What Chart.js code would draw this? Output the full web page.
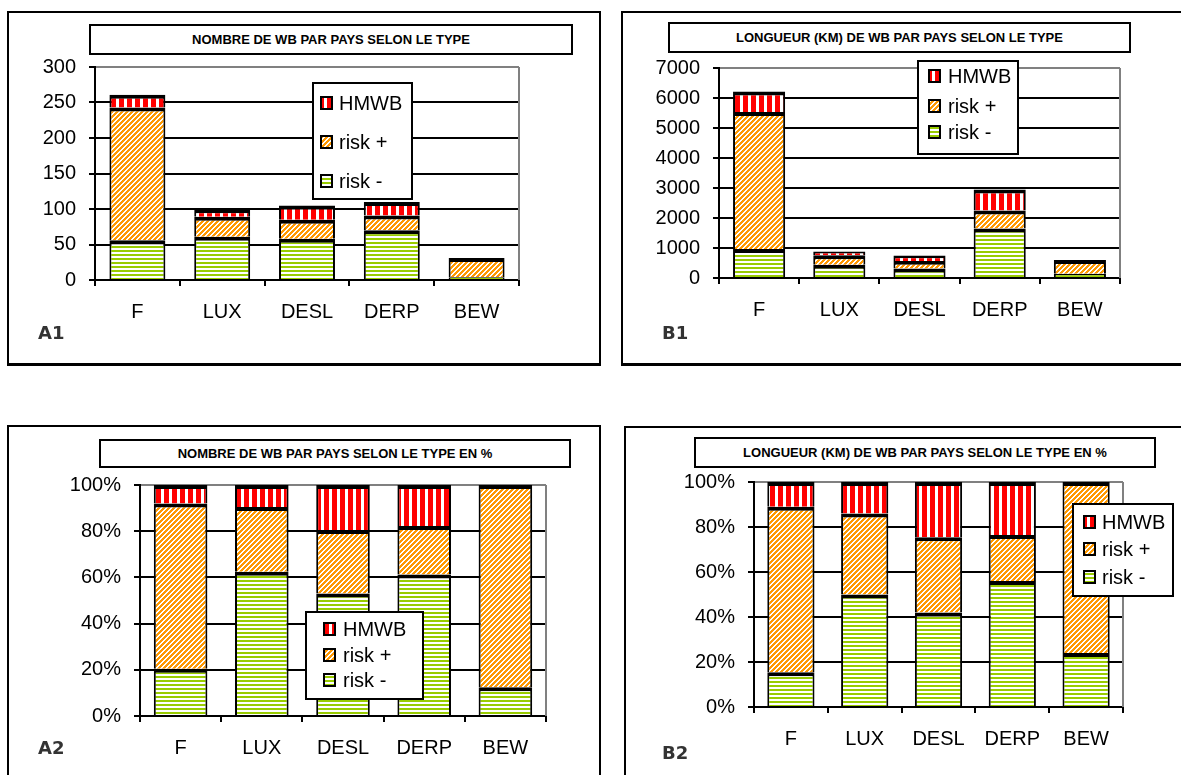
<!DOCTYPE html>
<html>
<head>
<meta charset="utf-8">
<title>WB par pays selon le type</title>
<script src="https://cdn.jsdelivr.net/npm/chart.js@4.4.1/dist/chart.umd.min.js"></script>
<style>
  html, body { margin: 0; padding: 0; background: #fff; }
  #page { position: relative; width: 1181px; height: 775px; overflow: hidden; background: #fff; }
  .frame { position: absolute; box-sizing: border-box; border: 2px solid #000; }
  .title { position: absolute; box-sizing: border-box; border: 2px solid #000; background: #fff;
           font: bold 13px 'Liberation Sans', Arial, sans-serif; color: #000;
           display: flex; align-items: center; justify-content: center; white-space: nowrap; }
  .tag { position: absolute; font: bold 18px 'DejaVu Sans', Verdana, sans-serif; color: #333; line-height: 20px; }
  canvas { position: absolute; }
</style>
</head>
<body>
<div id="page">
  <div class="frame" style="left:7px;top:11px;width:594px;height:355px;border-bottom-width:3px"></div>
  <div class="frame" style="left:621px;top:11px;width:600px;height:355px;border-bottom-width:3px"></div>
  <div class="frame" style="left:7px;top:425px;width:594px;height:400px"></div>
  <div class="frame" style="left:624px;top:426px;width:600px;height:400px"></div>

  <canvas id="cA1"></canvas>
  <canvas id="cB1"></canvas>
  <canvas id="cA2"></canvas>
  <canvas id="cB2"></canvas>

  <div class="title" style="left:89px;top:24px;width:484px;height:31px">NOMBRE DE WB PAR PAYS SELON LE TYPE</div>
  <div class="title" style="left:668px;top:22px;width:463px;height:31px">LONGUEUR (KM) DE WB PAR PAYS SELON LE TYPE</div>
  <div class="title" style="left:99px;top:439px;width:472px;height:29px">NOMBRE DE WB PAR PAYS SELON LE TYPE EN %</div>
  <div class="title" style="left:694px;top:437px;width:462px;height:31px">LONGUEUR (KM) DE WB PAR PAYS SELON LE TYPE EN %</div>

  <div class="tag" style="left:38px;top:323px">A1</div>
  <div class="tag" style="left:662px;top:323px">B1</div>
  <div class="tag" style="left:38px;top:738px">A2</div>
  <div class="tag" style="left:662px;top:743px">B2</div>
</div>

<script>
// categories and series
const countries = ['F', 'LUX', 'DESL', 'DERP', 'BEW'];
const seriesNames = ['risk -', 'risk +', 'HMWB'];

// A1 - nombre de WB
const nbRiskMinus = [56, 61, 58, 70, 4];
const nbRiskPlus = [187, 28, 27, 21, 27];
const nbHmwb = [18, 10, 20, 19, 0];

// B1 - longueur (km)
const kmRiskMinus = [970, 440, 315, 1650, 145];
const kmRiskPlus = [4560, 320, 250, 600, 455];
const kmHmwb = [690, 120, 185, 700, 0];

// A2 - nombre de WB en %
const nbPctRiskMinus = [20.5, 62.5, 53, 61.3, 12.5];
const nbPctRiskPlus = [71.5, 28, 27.5, 21, 87.5];
const nbPctHmwb = [8, 9.5, 19.5, 17.7, 0];

// B2 - longueur en %
const kmPctRiskMinus = [15.5, 50, 42, 56, 24];
const kmPctRiskPlus = [73.5, 36, 33.5, 20.5, 76];
const kmPctHmwb = [11, 14, 24.5, 23.5, 0];

Chart.defaults.font.family = "'Liberation Sans', Arial, sans-serif";
Chart.defaults.font.size = 20;
Chart.defaults.color = '#000';

// hatch tiles (Excel-like fills)
function makeTile(w, h, paint) {
    const c = document.createElement('canvas');
    c.width = w;
    c.height = h;
    const g = c.getContext('2d');
    g.fillStyle = '#fff';
    g.fillRect(0, 0, w, h);
    paint(g);
    return c;
}
const tileGreen = makeTile(1, 4, g => { g.fillStyle = '#99cc00'; g.fillRect(0, 0, 1, 2); });
const tileOrange = makeTile(5, 5, g => {
    g.fillStyle = '#ff9900';
    for (let y = 0; y < 5; y++) {
        for (let x = 0; x < 5; x++) {
            if ((x + y) % 5 < 3) g.fillRect(x, y, 1, 1);
        }
    }
});
const tileRed = makeTile(8, 1, g => { g.fillStyle = '#ff0000'; g.fillRect(0, 0, 5, 1); });

// grey right edge of the plot area
const plotFrame = {
    id: 'plotFrame',
    beforeDatasetsDraw(chart) {
        const { ctx, chartArea: a } = chart;
        ctx.save();
        ctx.strokeStyle = '#808080';
        ctx.lineWidth = 2;
        ctx.beginPath();
        ctx.moveTo(a.right, a.top);
        ctx.lineTo(a.right, a.bottom);
        ctx.stroke();
        ctx.restore();
    }
};

// boxed legend floating over the plot
const wbLegend = {
    id: 'wbLegend',
    afterDraw(chart, args, opts) {
        const g = chart.ctx;
        const [ox, oy] = opts.origin;
        const [x0, y0, x1, y1] = opts.box;
        g.save();
        g.fillStyle = '#fff';
        g.fillRect(x0 - ox, y0 - oy, x1 - x0, y1 - y0);
        g.lineWidth = 2;
        g.strokeStyle = '#000';
        g.strokeRect(x0 - ox, y0 - oy, x1 - x0, y1 - y0);
        const sets = chart.data.datasets.slice().reverse();
        sets.forEach((ds, i) => {
            const cy = opts.rows[i] - oy;
            const sx = opts.swatchX - ox;
            g.fillStyle = ds.backgroundColor;
            g.fillRect(sx, cy - 6, 11, 12);
            g.strokeRect(sx, cy - 6, 11, 12);
            g.fillStyle = '#000';
            g.font = "20px 'Liberation Sans', Arial, sans-serif";
            g.textBaseline = 'middle';
            g.fillText(ds.label, opts.textX - ox, cy + 1);
        });
        g.restore();
    }
};

const pct = v => v + '%';

const panels = [
    { id: 'A1', plot: [95, 62, 519, 280], max: 300, step: 50, bar: 0.66, xPad: 14, fmt: v => v,
      values: [nbRiskMinus, nbRiskPlus, nbHmwb],
      legend: { box: [313, 83, 412, 199], rows: [103, 142, 181], swatchX: 321, textX: 339 } },
    { id: 'B1', plot: [719, 63, 1120, 278], max: 7000, step: 1000, bar: 0.65, xPad: 14, fmt: v => v,
      values: [kmRiskMinus, kmRiskPlus, kmHmwb],
      legend: { box: [918, 61, 1018, 154], rows: [76, 106, 132], swatchX: 929, textX: 948 } },
    { id: 'A2', plot: [140, 480, 546, 716], max: 100, step: 20, bar: 0.66, xPad: 14, fmt: pct,
      values: [nbPctRiskMinus, nbPctRiskPlus, nbPctHmwb],
      legend: { box: [306, 612, 423, 699], rows: [629, 655, 680], swatchX: 324, textX: 343 } },
    { id: 'B2', plot: [754, 477, 1123, 707], max: 100, step: 20, bar: 0.64, xPad: 14, fmt: pct,
      values: [kmPctRiskMinus, kmPctRiskPlus, kmPctHmwb],
      legend: { box: [1073, 504, 1173, 596], rows: [522, 549, 577], swatchX: 1084, textX: 1102 } }
];

function buildChart(p) {
    const [L, T, R, B] = p.plot;
    const right = Math.max(R, p.legend.box[2]) + 6;
    const cx = L - 80;
    const cy = T - 20;
    const canvas = document.getElementById('c' + p.id);
    canvas.width = right - cx;
    canvas.height = B - T + 75;
    canvas.style.left = cx + 'px';
    canvas.style.top = cy + 'px';
    const g = canvas.getContext('2d');
    const tiles = [tileGreen, tileOrange, tileRed];

    new Chart(g, {
        type: 'bar',
        data: {
            labels: countries,
            datasets: p.values.map((vals, i) => ({
                label: seriesNames[i],
                data: vals,
                backgroundColor: g.createPattern(tiles[i], 'repeat')
            }))
        },
        options: {
            responsive: false,
            animation: false,
            devicePixelRatio: 1,
            events: [],
            layout: { padding: { left: 0, top: 20, right: right - R, bottom: 0 } },
            datasets: {
                bar: {
                    borderColor: '#000',
                    borderWidth: { top: 4, left: 2, right: 2, bottom: 0 },
                    barPercentage: p.bar,
                    categoryPercentage: 1
                }
            },
            plugins: {
                legend: { display: false },
                tooltip: { enabled: false },
                wbLegend: Object.assign({ origin: [cx, cy] }, p.legend)
            },
            scales: {
                x: {
                    stacked: true,
                    offset: true,
                    grid: { display: true, drawOnChartArea: false, drawTicks: true, tickLength: 6,
                            color: '#000', lineWidth: 2, offset: true },
                    border: { color: '#000', width: 2 },
                    ticks: { padding: p.xPad, color: '#000' },
                    afterFit(s) { s.height = 55; }
                },
                y: {
                    stacked: true,
                    min: 0,
                    max: p.max,
                    ticks: { stepSize: p.step, padding: 13, color: '#000', callback: p.fmt },
                    grid: {
                        color: c => (c.tick && c.tick.value === p.max ? '#808080' : '#000'),
                        lineWidth: 2,
                        tickLength: 6,
                        tickColor: '#000'
                    },
                    border: { color: '#000', width: 2 },
                    afterFit(s) { s.width = 80; }
                }
            }
        },
        plugins: [plotFrame, wbLegend]
    });
}

panels.forEach(buildChart);
</script>
</body>
</html>
